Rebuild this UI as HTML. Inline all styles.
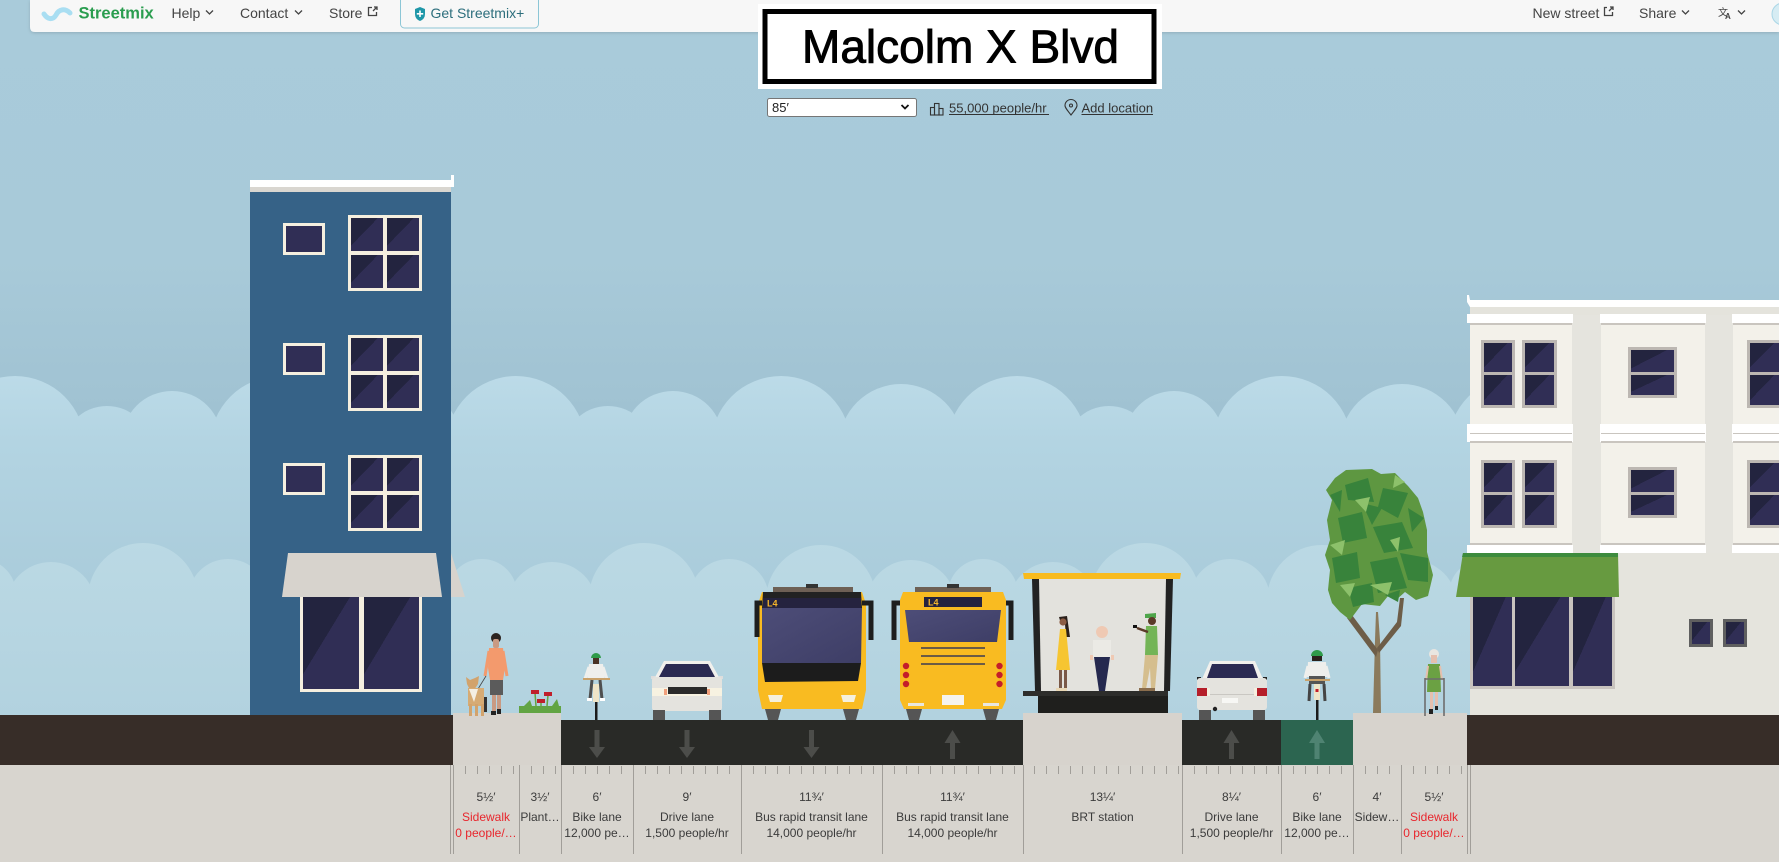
<!DOCTYPE html>
<html><head><meta charset="utf-8"><style>
html,body{margin:0;padding:0;background:#a8cad9;overflow:hidden}
svg{display:block}
</style></head><body>
<svg width="1779" height="862" viewBox="0 0 1779 862" xmlns="http://www.w3.org/2000/svg" font-family="'Liberation Sans', sans-serif">
<defs>
<linearGradient id="sky" x1="0" y1="0" x2="0" y2="862" gradientUnits="userSpaceOnUse">
<stop offset="0" stop-color="#a9cbda"/><stop offset="0.3" stop-color="#a8cad9"/><stop offset="0.48" stop-color="#a0c2d2"/><stop offset="1" stop-color="#a0c2d2"/></linearGradient>
<linearGradient id="cu" x1="0" y1="375" x2="0" y2="600" gradientUnits="userSpaceOnUse">
<stop offset="0" stop-color="#bcdbe8"/><stop offset="0.3" stop-color="#b3d4e2"/><stop offset="1" stop-color="#a9cbda"/></linearGradient>
<linearGradient id="cl" x1="0" y1="540" x2="0" y2="720" gradientUnits="userSpaceOnUse">
<stop offset="0" stop-color="#bbd9e4"/><stop offset="1" stop-color="#b2d2df"/></linearGradient>
<linearGradient id="gl" x1="0" y1="0" x2="1" y2="1">
<stop offset="0.42" stop-color="#23243f"/><stop offset="0.42" stop-color="#302e55"/></linearGradient>
<linearGradient id="ws" x1="0" y1="0" x2="1" y2="1">
<stop offset="0" stop-color="#4d4d78"/><stop offset="1" stop-color="#3e3e66"/></linearGradient>
<filter id="sh" x="-5%" y="-50%" width="110%" height="200%"><feDropShadow dx="0" dy="1" stdDeviation="1.5" flood-color="#000" flood-opacity="0.15"/></filter>
</defs>

<!-- sky -->
<rect x="0" y="0" width="1779" height="862" fill="url(#sky)"/>

<!-- upper clouds -->
<g fill="url(#cu)">
<rect x="0" y="430" width="1779" height="290"/>
<circle cx="15" cy="446" r="70"/><circle cx="107" cy="451" r="45"/><circle cx="172" cy="441" r="50"/><circle cx="280" cy="446" r="70"/><circle cx="400" cy="446" r="62"/>
<circle cx="516" cy="446" r="70"/><circle cx="608" cy="451" r="45"/><circle cx="673" cy="441" r="50"/><circle cx="781" cy="446" r="70"/><circle cx="901" cy="446" r="62"/>
<circle cx="1017" cy="446" r="70"/><circle cx="1109" cy="451" r="45"/><circle cx="1174" cy="441" r="50"/><circle cx="1282" cy="446" r="70"/><circle cx="1402" cy="446" r="62"/>
<circle cx="1518" cy="446" r="70"/><circle cx="1610" cy="451" r="45"/><circle cx="1675" cy="441" r="50"/><circle cx="1783" cy="446" r="70"/>
</g>
<!-- lower clouds -->
<g fill="url(#cl)">
<rect x="0" y="600" width="1779" height="120"/>
<circle cx="-19" cy="594" r="35"/>
<circle cx="51" cy="607" r="45"/><circle cx="143" cy="598" r="55"/><circle cx="228" cy="599" r="40"/><circle cx="320" cy="600" r="55"/><circle cx="410" cy="605" r="45"/><circle cx="482" cy="594" r="35"/>
<circle cx="552" cy="607" r="45"/><circle cx="644" cy="598" r="55"/><circle cx="729" cy="599" r="40"/><circle cx="821" cy="600" r="55"/><circle cx="911" cy="605" r="45"/><circle cx="983" cy="594" r="35"/>
<circle cx="1053" cy="607" r="45"/><circle cx="1145" cy="598" r="55"/><circle cx="1230" cy="599" r="40"/><circle cx="1322" cy="600" r="55"/><circle cx="1412" cy="605" r="45"/><circle cx="1484" cy="594" r="35"/>
<circle cx="1554" cy="607" r="45"/><circle cx="1646" cy="598" r="55"/><circle cx="1731" cy="599" r="40"/><circle cx="1823" cy="600" r="55"/>
</g>

<!-- ground -->
<rect x="0" y="715" width="453" height="50" fill="#372d28"/>
<rect x="1467" y="715" width="312" height="50" fill="#372d28"/>
<rect x="561" y="720" width="462" height="45" fill="#292a27"/>
<rect x="1182" y="720" width="99" height="45" fill="#292a27"/>
<rect x="1281" y="720" width="72" height="45" fill="#2c6550"/>
<rect x="453" y="713" width="108" height="52" fill="#d7d3cd"/>
<rect x="1023" y="713" width="159" height="52" fill="#d7d3cd"/>
<rect x="1353" y="713" width="114" height="52" fill="#d7d3cd"/>
<rect x="0" y="765" width="1779" height="97" fill="#d8d5cf"/>

<!-- arrows -->
<g fill="#4c4d4a">
<rect x="594.5" y="730" width="5" height="17"/><polygon points="589,747 605,747 597,758"/>
<rect x="684.5" y="730" width="5" height="17"/><polygon points="679,747 695,747 687,758"/>
<rect x="809" y="730" width="5" height="17"/><polygon points="803.5,747 819.5,747 811.5,758"/>
<polygon points="944.5,743 960.5,743 952.5,730"/><rect x="950" y="743" width="5" height="16"/>
<polygon points="1223.5,743 1239.5,743 1231.5,730"/><rect x="1229" y="743" width="5" height="16"/>
</g>
<g fill="#4f8372"><polygon points="1309,743 1325,743 1317,730"/><rect x="1314.5" y="743" width="5" height="16"/></g>

<!-- LEFT BUILDING -->
<rect x="250" y="192" width="201" height="523" fill="#366287"/>
<rect x="250" y="180" width="203" height="7" fill="#ffffff"/>
<rect x="451" y="175" width="3" height="12" fill="#ffffff"/>
<rect x="250" y="187" width="201" height="5" fill="#d9d6d0"/>
<g>
<rect x="283" y="223" width="42" height="32" fill="#f5efdf"/><rect x="286" y="226" width="36" height="26" fill="#302e55"/>
<rect x="348" y="215" width="74" height="76" fill="#f5efdf"/>
<rect x="351" y="218" width="32" height="33" fill="url(#gl)"/><rect x="387" y="218" width="32" height="33" fill="url(#gl)"/>
<rect x="351" y="255" width="32" height="33" fill="url(#gl)"/><rect x="387" y="255" width="32" height="33" fill="url(#gl)"/>
</g>
<g transform="translate(0 120)">
<rect x="283" y="223" width="42" height="32" fill="#f5efdf"/><rect x="286" y="226" width="36" height="26" fill="#302e55"/>
<rect x="348" y="215" width="74" height="76" fill="#f5efdf"/>
<rect x="351" y="218" width="32" height="33" fill="url(#gl)"/><rect x="387" y="218" width="32" height="33" fill="url(#gl)"/>
<rect x="351" y="255" width="32" height="33" fill="url(#gl)"/><rect x="387" y="255" width="32" height="33" fill="url(#gl)"/>
</g>
<g transform="translate(0 240)">
<rect x="283" y="223" width="42" height="32" fill="#f5efdf"/><rect x="286" y="226" width="36" height="26" fill="#302e55"/>
<rect x="348" y="215" width="74" height="76" fill="#f5efdf"/>
<rect x="351" y="218" width="32" height="33" fill="url(#gl)"/><rect x="387" y="218" width="32" height="33" fill="url(#gl)"/>
<rect x="351" y="255" width="32" height="33" fill="url(#gl)"/><rect x="387" y="255" width="32" height="33" fill="url(#gl)"/>
</g>
<polygon points="288,553 436,553 442,597 282,597" fill="#d7d3cd"/>
<polygon points="451,553 465,597 451,597" fill="#d7d3cd"/>
<rect x="300" y="597" width="122" height="95" fill="#f5efdf"/>
<rect x="303" y="597" width="56" height="92" fill="url(#gl)"/>
<rect x="364" y="597" width="55" height="92" fill="url(#gl)"/>

<!-- RIGHT BUILDING -->
<rect x="1470" y="307" width="309" height="246" fill="#e5e4de"/>
<polygon points="1467,295 1469,295 1470,300 1779,300 1779,307 1470,307 1467,302" fill="#ffffff"/>
<rect x="1470" y="307" width="309" height="8" fill="#e4e3dc"/>
<g fill="#f3f1ea">
<rect x="1470" y="314" width="102" height="239"/><rect x="1601" y="314" width="104" height="239"/><rect x="1733" y="314" width="46" height="239"/>
</g>
<g fill="#ffffff">
<rect x="1467" y="314" width="106" height="9"/><rect x="1600" y="314" width="106" height="9"/><rect x="1732" y="314" width="47" height="9"/>
<rect x="1467" y="424" width="106" height="18"/><rect x="1600" y="424" width="106" height="18"/><rect x="1732" y="424" width="47" height="18"/>
<rect x="1467" y="545" width="106" height="8"/><rect x="1600" y="545" width="106" height="8"/><rect x="1732" y="545" width="47" height="8"/>
</g>
<g fill="#c9c5bf">
<rect x="1470" y="323" width="102" height="2"/><rect x="1601" y="323" width="104" height="2"/><rect x="1733" y="323" width="46" height="2"/>
<rect x="1470" y="433" width="102" height="1"/><rect x="1601" y="433" width="104" height="1"/><rect x="1733" y="433" width="46" height="1"/>
<rect x="1470" y="441" width="102" height="2"/><rect x="1601" y="441" width="104" height="2"/><rect x="1733" y="441" width="46" height="2"/>
<rect x="1470" y="543" width="102" height="2"/><rect x="1601" y="543" width="104" height="2"/><rect x="1733" y="543" width="46" height="2"/>
</g>
<g>
<rect x="1481" y="340" width="34" height="68" fill="#bcb7b2"/><rect x="1484" y="343" width="28" height="29" fill="url(#gl)"/><rect x="1484" y="375" width="28" height="30" fill="url(#gl)"/>
<rect x="1522" y="340" width="35" height="68" fill="#bcb7b2"/><rect x="1525" y="343" width="29" height="29" fill="url(#gl)"/><rect x="1525" y="375" width="29" height="30" fill="url(#gl)"/>
<rect x="1628" y="347" width="49" height="51" fill="#bcb7b2"/><rect x="1631" y="350" width="43" height="22" fill="url(#gl)"/><rect x="1631" y="375" width="43" height="20" fill="url(#gl)"/>
<rect x="1747" y="340" width="34" height="68" fill="#bcb7b2"/><rect x="1750" y="343" width="29" height="29" fill="url(#gl)"/><rect x="1750" y="375" width="29" height="30" fill="url(#gl)"/>
</g>
<g transform="translate(0 120)">
<rect x="1481" y="340" width="34" height="68" fill="#bcb7b2"/><rect x="1484" y="343" width="28" height="29" fill="url(#gl)"/><rect x="1484" y="375" width="28" height="30" fill="url(#gl)"/>
<rect x="1522" y="340" width="35" height="68" fill="#bcb7b2"/><rect x="1525" y="343" width="29" height="29" fill="url(#gl)"/><rect x="1525" y="375" width="29" height="30" fill="url(#gl)"/>
<rect x="1628" y="347" width="49" height="51" fill="#bcb7b2"/><rect x="1631" y="350" width="43" height="22" fill="url(#gl)"/><rect x="1631" y="375" width="43" height="20" fill="url(#gl)"/>
<rect x="1747" y="340" width="34" height="68" fill="#bcb7b2"/><rect x="1750" y="343" width="29" height="29" fill="url(#gl)"/><rect x="1750" y="375" width="29" height="30" fill="url(#gl)"/>
</g>
<rect x="1470" y="553" width="309" height="162" fill="#e5e4dd"/>
<polygon points="1463,553 1618,553 1619,597 1456,597" fill="#679a40"/>
<polygon points="1463,553 1618,553 1618,557 1462,557" fill="#3d8b3d"/>
<rect x="1470" y="597" width="145" height="92" fill="#c8c3be"/>
<rect x="1473" y="597" width="39" height="89" fill="url(#gl)"/>
<rect x="1515" y="597" width="54" height="89" fill="url(#gl)"/>
<rect x="1573" y="597" width="39" height="89" fill="url(#gl)"/>
<rect x="1689" y="619" width="24" height="28" fill="#5f5f5f"/><rect x="1692" y="622" width="18" height="22" fill="url(#gl)"/>
<rect x="1723" y="619" width="24" height="28" fill="#5f5f5f"/><rect x="1726" y="622" width="18" height="22" fill="url(#gl)"/>

<!-- TREE -->
<polygon points="1373,713 1381,713 1380,640 1378,612 1376,612 1375,640" fill="#8b7a5c"/>
<polygon points="1376,657 1378,650 1352,615 1347,618" fill="#6d5d48"/>
<polygon points="1377,648 1379,653 1401,626 1404,598 1400,598 1397,622" fill="#6d5d48"/>
<polygon points="1335,478 1346,470 1372,469 1381,474 1395,473 1408,486 1418,498 1423,512 1427,530 1427,552 1433,575 1428,596 1416,600 1405,592 1396,600 1388,596 1380,606 1362,604 1350,620 1340,612 1332,603 1328,590 1330,570 1325,555 1330,540 1327,520 1332,500 1326,490" fill="#5e9741"/>
<g fill="#38833b">
<polygon points="1345,485 1368,478 1374,502 1348,500"/><polygon points="1383,488 1408,493 1398,518 1378,507"/>
<polygon points="1338,518 1362,512 1367,538 1343,543"/><polygon points="1373,527 1402,522 1413,548 1384,553"/>
<polygon points="1332,558 1357,552 1360,578 1336,583"/><polygon points="1370,562 1397,557 1407,588 1378,593"/>
<polygon points="1400,553 1428,558 1428,582 1408,580"/><polygon points="1348,588 1372,583 1374,602 1353,607"/>
<polygon points="1362,503 1382,508 1372,525"/><polygon points="1408,508 1424,518 1412,532"/>
<polygon points="1330,495 1342,490 1340,512"/><polygon points="1385,595 1400,590 1398,602"/>
</g>
<g fill="#8dc16b">
<polygon points="1355,500 1370,497 1366,512"/><polygon points="1330,545 1345,540 1342,555"/>
<polygon points="1390,540 1400,537 1398,552"/><polygon points="1370,585 1392,582 1388,595"/>
<polygon points="1340,585 1355,583 1350,597"/><polygon points="1395,475 1405,482 1393,488"/>
</g>

<!-- BRT STATION -->
<polygon points="1039,579 1166,579 1165,691 1040,691" fill="#e3e2dd"/>
<polygon points="1023,573 1181,573 1180,579 1024,579" fill="#f8bb1f"/>
<polygon points="1032,579 1039,579 1041,691 1035,691" fill="#222"/>
<polygon points="1166,579 1173,579 1170,691 1164,691" fill="#222"/>
<rect x="1023" y="691" width="145" height="5" fill="#2d2d2b"/>
<rect x="1038" y="696" width="130" height="17" fill="#1f1f1d"/>
<!-- woman -->
<polygon points="1059,617 1067,616 1070,637 1066,637 1065,624 1061,624" fill="#2a1f1a"/>
<circle cx="1063" cy="622" r="3.6" fill="#8c5d45"/>
<polygon points="1060,629 1066,629 1070,670 1056,670" fill="#f6c531"/>
<rect x="1059" y="670" width="3" height="19" fill="#7a5847"/><rect x="1064" y="670" width="3" height="19" fill="#7a5847"/>
<rect x="1056" y="688" width="11" height="3" fill="#e9d7b5"/>
<!-- man center -->
<circle cx="1102" cy="632" r="6" fill="#efc9b3"/>
<rect x="1093" y="640" width="18" height="18" fill="#ebeae5"/>
<rect x="1090" y="655" width="3" height="5" fill="#efc9b3"/><rect x="1111" y="655" width="3" height="5" fill="#efc9b3"/>
<polygon points="1094,657 1110,657 1105,691 1099,691" fill="#25294f"/>
<!-- man right -->
<polygon points="1145,614 1156,613 1156,618 1145,618" fill="#4ea54a"/>
<circle cx="1152" cy="621" r="4" fill="#5a3a28"/>
<polygon points="1146,626 1157,626 1158,655 1145,655" fill="#73b456"/>
<line x1="1148" y1="632" x2="1137" y2="628" stroke="#5a3a28" stroke-width="2.5"/>
<rect x="1133" y="625" width="4" height="3" fill="#111"/>
<polygon points="1145,655 1158,655 1155,689 1151,689 1150,668 1146,689 1142,689" fill="#d5be8e"/>
<rect x="1139" y="688" width="16" height="3" fill="#8a6d4d"/>

<!-- BUS 1 (front) -->
<rect x="773" y="587" width="80" height="5" fill="#6e6055"/><rect x="806" y="584" width="12" height="4" fill="#333"/>
<polygon points="762,592 862,592 866,604 866,690 862,709 762,709 758,690 758,604" fill="#f9bb21"/>
<polygon points="763,592 861,592 862,608 762,608" fill="#222"/>
<rect x="763" y="598" width="98" height="10" fill="#25233f"/>
<text x="767" y="606.5" font-size="9" fill="#f5b52a" font-weight="bold">L4</text>
<polygon points="762,608 862,608 861,663 762,663" fill="url(#ws)"/>
<polygon points="762,663 861,663 858,681 765,682" fill="#1c1c1c"/>
<polygon points="768,695 783,695 781,702 770,702" fill="#f5f0dc"/>
<polygon points="841,695 856,695 854,702 843,702" fill="#f5f0dc"/>
<path d="M757,637 V603 H762" stroke="#1e1e1e" stroke-width="5" fill="none"/>
<path d="M862,603 H871 V640" stroke="#1e1e1e" stroke-width="5" fill="none"/>
<polygon points="765,709 781,709 778,720 768,720" fill="#555"/>
<polygon points="843,709 859,709 856,720 846,720" fill="#555"/>

<!-- BUS 2 (rear) -->
<rect x="915" y="587" width="76" height="5" fill="#6e6055"/><rect x="947" y="584" width="12" height="4" fill="#333"/>
<polygon points="903,592 1003,592 1006,600 1006,700 1002,709 904,709 900,700 900,600" fill="#f9bb21"/>
<rect x="924" y="597" width="58" height="10" fill="#25233f"/>
<text x="928" y="605.5" font-size="9" fill="#f5b52a" font-weight="bold">L4</text>
<polygon points="905,610 1001,610 997,642 909,642" fill="url(#ws)"/>
<g fill="#6b5b45"><rect x="921" y="647" width="64" height="2"/><rect x="921" y="655" width="64" height="2"/><rect x="921" y="663" width="64" height="2"/></g>
<g fill="#c41e2a"><circle cx="906" cy="666" r="3.2"/><circle cx="906" cy="675" r="3.2"/><circle cx="906" cy="684" r="3.2"/><circle cx="999.5" cy="666" r="3.2"/><circle cx="999.5" cy="675" r="3.2"/><circle cx="999.5" cy="684" r="3.2"/></g>
<rect x="942" y="695" width="22" height="10" fill="#f5f3ee"/>
<rect x="908" y="703" width="16" height="3" fill="#e8e6e0"/><rect x="983" y="703" width="16" height="3" fill="#e8e6e0"/>
<path d="M894,640 V603 H900" stroke="#1e1e1e" stroke-width="5" fill="none"/>
<path d="M1006,603 H1011 V640" stroke="#1e1e1e" stroke-width="5" fill="none"/>
<polygon points="906,709 922,709 919,720 909,720" fill="#555"/>
<polygon points="983,709 999,709 996,720 986,720" fill="#555"/>

<!-- CAR front (left) -->
<polygon points="664,661 710,661 720,679 654,679" fill="#f1f0ec"/>
<polygon points="666,664 708,664 715,677 659,677" fill="#2a2a52"/>
<rect x="651" y="676" width="4" height="3" fill="#ddd"/><rect x="719" y="676" width="4" height="3" fill="#ddd"/>
<rect x="652" y="677" width="70" height="34" rx="3" fill="#e4e3de"/>
<rect x="652" y="688" width="70" height="8" fill="#f7f2e1"/>
<rect x="664" y="689" width="3" height="6" fill="#f0a07c"/><rect x="707" y="689" width="3" height="6" fill="#f0a07c"/>
<rect x="668" y="687" width="39" height="7" fill="#2a2a2a"/>
<rect x="653" y="710" width="12" height="10" fill="#555"/><rect x="709" y="710" width="12" height="10" fill="#555"/>

<!-- CAR rear (right) -->
<polygon points="1210,661 1255,661 1263,679 1202,679" fill="#f1f0ec"/>
<polygon points="1212,664 1253,664 1258,678 1207,678" fill="#2a2a52"/>
<rect x="1197" y="677" width="4" height="3" fill="#222"/><rect x="1263" y="677" width="4" height="3" fill="#222"/>
<rect x="1197" y="678" width="70" height="32" rx="3" fill="#e4e3de"/>
<rect x="1197" y="688" width="10" height="8" fill="#b51f2a"/><rect x="1257" y="688" width="10" height="8" fill="#b51f2a"/>
<rect x="1207" y="688" width="3" height="8" fill="#f5efe0"/><rect x="1254" y="688" width="3" height="8" fill="#f5efe0"/>
<rect x="1210" y="694" width="44" height="1" fill="#c9c7c2"/>
<rect x="1222" y="698" width="16" height="5" fill="#f7f7f4"/>
<circle cx="1215" cy="709" r="2.2" fill="#222"/>
<rect x="1199" y="710" width="12" height="10" fill="#555"/><rect x="1253" y="710" width="12" height="10" fill="#555"/>

<!-- pedestrian + dog -->
<circle cx="496" cy="638" r="5" fill="#2b2320"/>
<rect x="493" y="639" width="6" height="9" rx="2" fill="#c99a83"/>
<line x1="489" y1="651" x2="485" y2="676" stroke="#f39a6d" stroke-width="3"/>
<line x1="503" y1="651" x2="507" y2="676" stroke="#f39a6d" stroke-width="3"/>
<polygon points="489,648 503,648 505,668 503,680 490,680 488,668" fill="#f39a6d"/>
<rect x="490" y="680" width="13" height="15" fill="#5b5b5b"/>
<rect x="492" y="695" width="4" height="17" fill="#c99a83"/><rect x="497" y="695" width="4" height="15" fill="#c99a83"/>
<rect x="491" y="711" width="5" height="4" fill="#222"/><rect x="497" y="709" width="4" height="5" fill="#222"/>
<line x1="486" y1="676" x2="478" y2="689" stroke="#444" stroke-width="0.8"/>
<polygon points="466,677 470,680 475,678 479,676 478,684 474,690 470,690 467,684" fill="#d2a36c"/>
<rect x="468" y="688" width="16" height="18" fill="#d6ab74"/>
<polygon points="469,689 478,689 474,702" fill="#f4efe4"/>
<rect x="469" y="704" width="3" height="12" fill="#d2a36c"/><rect x="475" y="704" width="3" height="12" fill="#d2a36c"/><rect x="481" y="704" width="3" height="12" fill="#d2a36c"/>
<rect x="484" y="697" width="3" height="15" fill="#333"/>
<!-- planter -->
<rect x="519" y="706" width="42" height="7" fill="#62a443"/>
<g stroke="#62a443" stroke-width="1.5"><line x1="535" y1="693" x2="536" y2="706"/><line x1="548" y1="695" x2="547" y2="706"/><line x1="541" y1="702" x2="541" y2="706"/></g>
<polygon points="524,706 530,700 532,706" fill="#62a443"/><polygon points="552,706 557,699 559,706" fill="#62a443"/>
<g fill="#c01f2b"><rect x="531" y="690" width="8" height="4"/><rect x="544" y="692" width="8" height="4"/><rect x="537" y="699" width="8" height="4"/></g>

<!-- left cyclist -->
<path d="M591,658 A5,5 0 0 1 601,658 Z" fill="#2f9b4a"/>
<rect x="593" y="658" width="6" height="6" fill="#4a3325"/>
<polygon points="589,664 603,664 605,680 587,680" fill="#efefec"/>
<line x1="589" y1="667" x2="585" y2="679" stroke="#efefec" stroke-width="3"/><line x1="603" y1="667" x2="607" y2="679" stroke="#efefec" stroke-width="3"/>
<rect x="583" y="678" width="27" height="2" fill="#c9a26b"/>
<rect x="595" y="686" width="2.5" height="34" fill="#1b1b1b"/>
<rect x="593" y="684" width="6" height="18" fill="#efe5c8"/>
<line x1="592" y1="680" x2="590" y2="699" stroke="#4f4f4f" stroke-width="3"/><line x1="600" y1="680" x2="602" y2="699" stroke="#4f4f4f" stroke-width="3"/>
<rect x="587" y="698" width="5" height="3" fill="#fff"/><rect x="600" y="698" width="5" height="3" fill="#fff"/>

<!-- right cyclist -->
<path d="M1311,656 A6,6 0 0 1 1323,656 Z" fill="#2f9b4a"/>
<rect x="1312" y="656" width="10" height="5" fill="#2b211b"/>
<polygon points="1308,662 1326,662 1327,677 1307,677" fill="#efefec"/>
<line x1="1308" y1="666" x2="1305" y2="678" stroke="#efefec" stroke-width="3"/><line x1="1326" y1="666" x2="1329" y2="678" stroke="#efefec" stroke-width="3"/>
<rect x="1309" y="676" width="16" height="8" fill="#555"/>
<rect x="1305" y="679" width="25" height="2" fill="#c9a26b"/>
<rect x="1316" y="688" width="2.5" height="32" fill="#1b1b1b"/>
<rect x="1314" y="684" width="6" height="16" fill="#efe5c8"/>
<rect x="1315.5" y="689" width="3" height="3" fill="#c41e2a"/>
<line x1="1310" y1="684" x2="1309" y2="701" stroke="#444" stroke-width="3"/><line x1="1324" y1="684" x2="1325" y2="701" stroke="#444" stroke-width="3"/>

<!-- old woman -->
<circle cx="1434" cy="654" r="5" fill="#e9e6e1"/>
<rect x="1431" y="655" width="6" height="8" fill="#e5bfae"/>
<polygon points="1428,664 1440,664 1441,692 1427,692" fill="#6ba143"/>
<line x1="1428" y1="666" x2="1426" y2="680" stroke="#e5bfae" stroke-width="2"/><line x1="1440" y1="666" x2="1442" y2="680" stroke="#e5bfae" stroke-width="2"/>
<rect x="1430" y="692" width="3" height="18" fill="#e5bfae"/><rect x="1435" y="692" width="3" height="16" fill="#e5bfae"/>
<rect x="1429" y="709" width="4" height="5" fill="#222"/><rect x="1435" y="706" width="3" height="4" fill="#222"/>
<g stroke="#6d6d6d" stroke-width="1.6"><line x1="1425" y1="678" x2="1425" y2="716"/><line x1="1444" y1="678" x2="1444" y2="716"/><line x1="1425" y1="679" x2="1444" y2="679"/></g>

<!-- ruler -->
<g stroke="#a19e99" stroke-width="1">
<path d="M450.5,765 V854 M453.5,765 V854 M519.5,765 V854 M561.5,765 V854 M633.5,765 V854 M741.5,765 V854 M882.5,765 V854 M1023.5,765 V854 M1182.5,765 V854 M1281.5,765 V854 M1353.5,765 V854 M1401.5,765 V854 M1467.5,765 V854 M1470.5,765 V854"/>
<path d="M465.5,766v8M477.5,766v8M489.5,766v8M501.5,766v8M513.5,766v8
M531.5,766v8M543.5,766v8M555.5,766v8
M573.5,766v8M585.5,766v8M597.5,766v8M609.5,766v8M621.5,766v8
M645.5,766v8M657.5,766v8M669.5,766v8M681.5,766v8M693.5,766v8M705.5,766v8M717.5,766v8M729.5,766v8
M753.5,766v8M765.5,766v8M777.5,766v8M789.5,766v8M801.5,766v8M813.5,766v8M825.5,766v8M837.5,766v8M849.5,766v8M861.5,766v8M873.5,766v8
M894.5,766v8M906.5,766v8M918.5,766v8M930.5,766v8M942.5,766v8M954.5,766v8M966.5,766v8M978.5,766v8M990.5,766v8M1002.5,766v8M1014.5,766v8
M1034.5,766v8M1046.5,766v8M1058.5,766v8M1070.5,766v8M1082.5,766v8M1094.5,766v8M1106.5,766v8M1118.5,766v8M1130.5,766v8M1142.5,766v8M1154.5,766v8M1166.5,766v8M1178.5,766v8
M1194.5,766v8M1206.5,766v8M1218.5,766v8M1230.5,766v8M1242.5,766v8M1254.5,766v8M1266.5,766v8M1278.5,766v8
M1293.5,766v8M1305.5,766v8M1317.5,766v8M1329.5,766v8M1341.5,766v8
M1365.5,766v8M1377.5,766v8M1389.5,766v8
M1413.5,766v8M1425.5,766v8M1437.5,766v8M1449.5,766v8M1461.5,766v8"/>
</g>
<g font-size="12" text-anchor="middle" fill="#3b3b3b">
<text x="486" y="801">5½′</text><text x="486" y="821" fill="#e8262d">Sidewalk</text><text x="486" y="837" fill="#e8262d">0 people/…</text>
<text x="540" y="801">3½′</text><text x="540" y="821">Plant…</text>
<text x="597" y="801">6′</text><text x="597" y="821">Bike lane</text><text x="597" y="837">12,000 pe…</text>
<text x="687" y="801">9′</text><text x="687" y="821">Drive lane</text><text x="687" y="837">1,500 people/hr</text>
<text x="811.5" y="801">11¾′</text><text x="811.5" y="821">Bus rapid transit lane</text><text x="811.5" y="837">14,000 people/hr</text>
<text x="952.5" y="801">11¾′</text><text x="952.5" y="821">Bus rapid transit lane</text><text x="952.5" y="837">14,000 people/hr</text>
<text x="1102.5" y="801">13¼′</text><text x="1102.5" y="821">BRT station</text>
<text x="1231.5" y="801">8¼′</text><text x="1231.5" y="821">Drive lane</text><text x="1231.5" y="837">1,500 people/hr</text>
<text x="1317" y="801">6′</text><text x="1317" y="821">Bike lane</text><text x="1317" y="837">12,000 pe…</text>
<text x="1377" y="801">4′</text><text x="1377" y="821">Sidew…</text>
<text x="1434" y="801">5½′</text><text x="1434" y="821" fill="#e8262d">Sidewalk</text><text x="1434" y="837" fill="#e8262d">0 people/…</text>
</g>

<!-- NAV BAR -->
<path d="M30,0 H1779 V32 H35 Q30,32 30,27 Z" fill="#f7f7f7" filter="url(#sh)"/>
<path d="M44,14 C48,20 53,20 56,15 C59,9 65,8 70,13" stroke="#a9def2" stroke-width="5" fill="none" stroke-linecap="round"/>
<text x="78.5" y="18.5" font-size="16.5" font-weight="bold" fill="#2a9d4f">Streetmix</text>
<g font-size="14" fill="#444">
<text x="171.5" y="18">Help</text>
<text x="240" y="18">Contact</text>
<text x="329" y="18">Store</text>
<text x="1532.5" y="18">New street</text>
<text x="1639" y="18">Share</text>
</g>
<g stroke="#444" stroke-width="1.3" fill="none">
<polyline points="206,10.5 209.5,14 213,10.5"/>
<polyline points="295,10.5 298.5,14 302,10.5"/>
<polyline points="1682,10.5 1685.5,14 1689,10.5"/>
<polyline points="1738,10.5 1741.5,14 1745,10.5"/>
<path d="M372,7.5 H368.5 V15.5 H376.5 V12 M373,11 L377,7 M374,7 H377 V10"/>
<path d="M1607,7.5 H1604.5 V15.5 H1612.5 V12 M1609,11 L1613,7 M1610,7 H1613 V10"/>
</g>
<text x="1718" y="16" font-size="10" fill="#444" font-family="'Liberation Sans','Noto Sans CJK SC',sans-serif">文</text>
<text x="1725" y="19" font-size="8" fill="#444" font-weight="bold">A</text>
<circle cx="1783" cy="14" r="11" fill="#d6ecf3" stroke="#a9d6e6"/>
<rect x="400.5" y="-4" width="138" height="32" rx="4" fill="#f7f7f7" stroke="#8cc6d6" stroke-width="1"/>
<path d="M415,9 L420,7 L425,9 V14 Q425,19 420,21 Q415,19 415,14 Z" fill="#1f97a8"/>
<path d="M420,10.5 V17 M416.8,13.8 H423.2" stroke="#fff" stroke-width="1.6"/>
<text x="430.5" y="18" font-size="14" fill="#2c6e7c">Get Streetmix+</text>

<!-- TITLE -->
<rect x="758" y="4" width="404" height="85" fill="#ffffff"/>
<rect x="765" y="11.5" width="389" height="70" fill="none" stroke="#000" stroke-width="5"/>
<text x="960.5" y="62.5" font-size="46" text-anchor="middle" fill="#000" stroke="#000" stroke-width="0.9">Malcolm X Blvd</text>

<!-- controls -->
<rect x="767.5" y="98.5" width="149" height="18" rx="2" fill="#fff" stroke="#767676"/>
<text x="772" y="112" font-size="13" fill="#222">85′</text>
<polyline points="901.5,105 905,108.5 908.5,105" stroke="#111" stroke-width="1.8" fill="none"/>
<g stroke="#333" stroke-width="1.1" fill="none">
<rect x="930.5" y="107.5" width="4" height="7.5"/><rect x="934.5" y="103.5" width="4.5" height="11.5"/><rect x="939" y="108.5" width="4" height="6.5"/>
<path d="M1071,115 C1067,110 1065,107.5 1065,105.5 A4.5,4.5 0 0 1 1077,105.5 C1077,107.5 1075,110 1071,115 Z"/>
<circle cx="1071" cy="105.5" r="1.5"/>
</g>
<text x="949" y="112.5" font-size="13" fill="#333">55,000 people/hr</text>
<rect x="949" y="114" width="100" height="1" fill="#333"/>
<text x="1081.5" y="112.5" font-size="13" fill="#333">Add location</text>
<rect x="1081.5" y="114" width="71.5" height="1" fill="#333"/>
</svg>
</body></html>
